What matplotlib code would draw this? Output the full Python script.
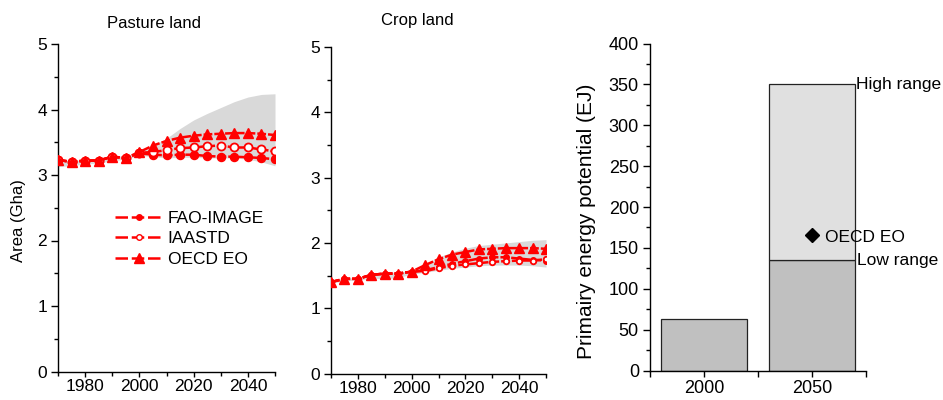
import matplotlib
matplotlib.use('Agg')
import matplotlib.pyplot as plt
from matplotlib.lines import Line2D
from matplotlib.ticker import MultipleLocator, FixedLocator

plt.rcParams['font.family'] = ['Liberation Sans', 'DejaVu Sans']
plt.rcParams['font.size'] = 12

# ---------------- data ----------------
years = list(range(1970, 2051, 5))

pasture_fao    = [3.23, 3.20, 3.22, 3.22, 3.28, 3.26, 3.33, 3.31, 3.30, 3.31, 3.31, 3.29, 3.28, 3.28, 3.27, 3.26, 3.24]
pasture_iaastd = [3.23, 3.20, 3.22, 3.22, 3.28, 3.26, 3.34, 3.35, 3.38, 3.41, 3.42, 3.44, 3.45, 3.42, 3.42, 3.39, 3.36]
pasture_oecd   = [3.23, 3.20, 3.22, 3.22, 3.28, 3.26, 3.35, 3.45, 3.52, 3.57, 3.60, 3.62, 3.63, 3.64, 3.64, 3.63, 3.61]
pasture_low    = [3.13, 3.14, 3.17, 3.18, 3.22, 3.24, 3.30, 3.28, 3.26, 3.27, 3.27, 3.26, 3.26, 3.26, 3.24, 3.20, 3.14]
pasture_high   = [3.23, 3.22, 3.23, 3.24, 3.29, 3.29, 3.36, 3.45, 3.56, 3.71, 3.84, 3.94, 4.03, 4.12, 4.19, 4.23, 4.24]

crop_fao    = [1.40, 1.45, 1.45, 1.51, 1.53, 1.53, 1.56, 1.58, 1.63, 1.68, 1.72, 1.76, 1.78, 1.78, 1.76, 1.74, 1.73]
crop_iaastd = [1.40, 1.45, 1.45, 1.51, 1.53, 1.53, 1.56, 1.57, 1.61, 1.65, 1.67, 1.69, 1.71, 1.72, 1.73, 1.73, 1.75]
crop_oecd   = [1.40, 1.45, 1.45, 1.51, 1.53, 1.53, 1.56, 1.66, 1.75, 1.82, 1.86, 1.90, 1.91, 1.92, 1.92, 1.92, 1.91]
crop_low    = [1.38, 1.42, 1.43, 1.46, 1.45, 1.47, 1.52, 1.55, 1.58, 1.61, 1.63, 1.65, 1.66, 1.66, 1.66, 1.65, 1.63]
crop_high   = [1.41, 1.46, 1.47, 1.51, 1.55, 1.55, 1.58, 1.67, 1.78, 1.86, 1.92, 1.96, 1.98, 2.00, 2.02, 2.04, 2.05]

series_names = ['FAO-IMAGE', 'IAASTD', 'OECD EO']

bar_categories = ['2000', '2050']
bar_low_range  = [63, 135]
bar_high_range = [None, 350]
oecd_eo_2050   = 166

# ---------------- styles ----------------
RED = '#ff0000'
BAND = '#d9d9d9'
LS = (0, (3.5, 0.8))

def marker_styles(circle_size, tri_size):
    return [
        dict(marker='o', markersize=circle_size, markerfacecolor=RED, markeredgecolor=RED),
        dict(marker='o', markersize=circle_size, markerfacecolor='white', markeredgecolor=RED, markeredgewidth=1.3),
        dict(marker='^', markersize=tri_size, markerfacecolor=RED, markeredgecolor=RED),
    ]

fig = plt.figure(figsize=(9.43, 4.0), dpi=100)

def px_axes(x0, x1, ytop, ybot):
    W, H = 943.0, 400.0
    return fig.add_axes([x0 / W, 1 - ybot / H, (x1 - x0) / W, (ybot - ytop) / H])

def style_line_axes(ax):
    ax.set_xlim(1970, 2050)
    ax.set_ylim(0, 5)
    ax.xaxis.set_major_locator(FixedLocator([1980, 2000, 2020, 2040]))
    ax.xaxis.set_minor_locator(FixedLocator([1970, 1990, 2010, 2030, 2050]))
    ax.yaxis.set_major_locator(MultipleLocator(1))
    ax.yaxis.set_minor_locator(MultipleLocator(0.5))
    for s in ('top', 'right'):
        ax.spines[s].set_visible(False)
    for s in ('left', 'bottom'):
        ax.spines[s].set_linewidth(1.0)
    ax.tick_params(axis='both', which='both', direction='out', width=1.0)
    ax.tick_params(axis='y', which='major', length=5, pad=3, labelsize=12.5)
    ax.tick_params(axis='y', which='minor', length=3)
    ax.tick_params(axis='x', which='major', length=3.5, pad=2, labelsize=12.5)
    ax.tick_params(axis='x', which='minor', length=3)

def draw_panel(ax, low, high, data, styles):
    ax.fill_between(years, low, high, color=BAND, linewidth=0, zorder=1)
    for vals, st in zip(data, styles):
        ax.plot(years, vals, color=RED, linewidth=1.8, linestyle=LS, zorder=3, **st)
    style_line_axes(ax)

ax1 = px_axes(58, 275, 44, 371.5)
draw_panel(ax1, pasture_low, pasture_high, [pasture_fao, pasture_iaastd, pasture_oecd],
           marker_styles(5.8, 7.0))

ax2 = px_axes(331, 546, 47, 373.5)
draw_panel(ax2, crop_low, crop_high, [crop_fao, crop_iaastd, crop_oecd],
           marker_styles(4.0, 7.0))

# legend (proxy handles)
leg_styles = [
    dict(marker='o', markersize=4, markerfacecolor=RED, markeredgecolor=RED),
    dict(marker='o', markersize=4, markerfacecolor='white', markeredgecolor=RED, markeredgewidth=1.0),
    dict(marker='^', markersize=7, markerfacecolor=RED, markeredgecolor=RED),
]
handles = [Line2D([], [], color=RED, linewidth=1.8, linestyle=(0, (5, 1.5)), **st) for st in leg_styles]
ax1.legend(handles, series_names, loc='center left', bbox_to_anchor=(0.262, 0.405),
           frameon=False, fontsize=12.5, handlelength=2.75, handletextpad=0.3,
           labelspacing=0.32, borderpad=0, borderaxespad=0)

fig.text(154 / 943, 1 - 23 / 400, 'Pasture land', ha='center', va='center', fontsize=12)
fig.text(417 / 943, 1 - 20 / 400, 'Crop land', ha='center', va='center', fontsize=12)
fig.text(18.5 / 943, 1 - 221 / 400, 'Area (Gha)', ha='center', va='center', rotation=90, fontsize=12)

# ---------------- right panel ----------------
ax3 = px_axes(650, 866, 43.5, 370.5)
xpos = list(range(len(bar_categories)))
ax3.bar(xpos, bar_low_range, width=0.8, color='#c0c0c0', edgecolor='#222222', linewidth=0.9, zorder=2)
hi_x = [x for x, h in zip(xpos, bar_high_range) if h is not None]
hi_h = [h - l for h, l in zip(bar_high_range, bar_low_range) if h is not None]
hi_b = [l for h, l in zip(bar_high_range, bar_low_range) if h is not None]
ax3.bar(hi_x, hi_h, bottom=hi_b, width=0.8, color='#e0e0e0', edgecolor='#222222', linewidth=0.9, zorder=2)
ax3.plot([1], [oecd_eo_2050], marker='D', markersize=7, color='black', linestyle='none', zorder=4)
ax3.text(1.12, oecd_eo_2050 - 3, 'OECD EO', ha='left', va='center', fontsize=12.5, zorder=5)
ax3.text(1.405, bar_high_range[1], 'High range', ha='left', va='center', fontsize=12.5, clip_on=False)
ax3.text(1.42, bar_low_range[1], 'Low range', ha='left', va='center', fontsize=12.5, clip_on=False)

ax3.set_xlim(-0.5, 1.5)
ax3.set_ylim(0, 400)
ax3.set_xticks(xpos)
ax3.set_xticklabels(bar_categories)
ax3.xaxis.set_minor_locator(FixedLocator([-0.5, 0.5, 1.5]))
ax3.yaxis.set_major_locator(MultipleLocator(50))
ax3.yaxis.set_minor_locator(MultipleLocator(25))
for s in ('top', 'right'):
    ax3.spines[s].set_visible(False)
for s in ('left', 'bottom'):
    ax3.spines[s].set_linewidth(1.0)
ax3.tick_params(axis='both', which='both', direction='out', width=1.0)
ax3.tick_params(axis='y', which='major', length=5, pad=3, labelsize=13)
ax3.tick_params(axis='y', which='minor', length=3)
ax3.tick_params(axis='x', which='major', length=4, pad=3, labelsize=13)
ax3.tick_params(axis='x', which='minor', length=4)
fig.text(587 / 943, 1 - 221 / 400, 'Primairy energy potential (EJ)', ha='center', va='center',
         rotation=90, fontsize=15)

fig.savefig('out.png', dpi=100)
